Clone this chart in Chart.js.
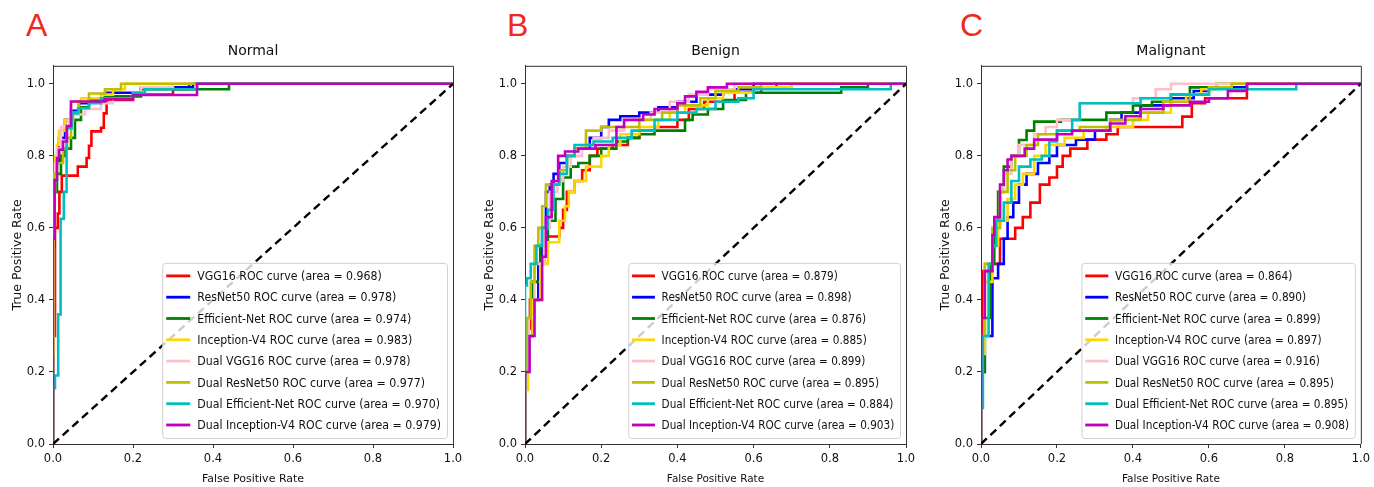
<!doctype html>
<html><head><meta charset="utf-8"><title>ROC curves</title>
<script src="https://cdn.jsdelivr.net/npm/chart.js"></script>
<style>
body{margin:0;background:#fff;width:1374px;height:487px;position:relative;overflow:hidden}
.panel{position:absolute;top:0}
.tag{position:absolute;top:9px;color:#f0281e;font:32px/32px "Liberation Sans",Arial,sans-serif}
</style>
</head><body>
<div class="tag" style="left:26px">A</div>
<div class="tag" style="left:507px">B</div>
<div class="tag" style="left:960px">C</div>
<div class="panel" style="left:0px"><canvas id="chartA" width="470" height="487"></canvas></div>
<div class="panel" style="left:472px"><canvas id="chartB" width="451" height="487"></canvas></div>
<div class="panel" style="left:928px"><canvas id="chartC" width="446" height="487"></canvas></div>
<script>
// model names, colours and AUC values per class
const modelNames = ['VGG16', 'ResNet50', 'Efficient-Net', 'Inception-V4', 'Dual VGG16', 'Dual ResNet50', 'Dual Efficient-Net', 'Dual Inception-V4'];
const modelColors = ['#ff0000', '#0000ff', '#008000', '#ffd700', '#ffc0cb', '#bfbf00', '#00bfbf', '#bf00bf'];
const normalAuc = [0.968, 0.978, 0.974, 0.983, 0.978, 0.977, 0.970, 0.979];
const benignAuc = [0.879, 0.898, 0.876, 0.885, 0.899, 0.895, 0.884, 0.903];
const malignantAuc = [0.864, 0.890, 0.899, 0.897, 0.916, 0.895, 0.895, 0.908];
const tickValues = [0, 0.2, 0.4, 0.6, 0.8, 1.0];

// ROC points [fpr, tpr] (drawn as steps: up first, then right)
const normalVgg16 = [[0,0],[0.005,0.3],[0.012,0.6],[0.016,0.64],[0.022,0.7],[0.062,0.745],[0.084,0.77],[0.09,0.794],[0.096,0.828],[0.12,0.868],[0.127,0.878],[0.134,0.918],[0.2,0.955],[0.3,0.97],[0.34,0.985],[1,1]];
const normalResnet50 = [[0,0],[0.003,0.55],[0.008,0.7],[0.015,0.78],[0.03,0.85],[0.045,0.9],[0.065,0.925],[0.09,0.946],[0.13,0.96],[0.22,0.975],[0.35,0.99],[1,1]];
const normalEffnet = [[0,0],[0.003,0.62],[0.01,0.7],[0.02,0.75],[0.03,0.8],[0.045,0.82],[0.055,0.85],[0.07,0.9],[0.09,0.935],[0.13,0.955],[0.22,0.965],[0.44,0.985],[1,1]];
const normalInception = [[0,0],[0.002,0.25],[0.005,0.74],[0.01,0.8],[0.015,0.83],[0.03,0.87],[0.045,0.9],[0.07,0.95],[0.12,0.96],[0.15,0.97],[0.18,0.985],[1,1]];
const normalDualVgg16 = [[0,0],[0.005,0.7],[0.01,0.78],[0.02,0.82],[0.04,0.88],[0.05,0.9],[0.08,0.915],[0.12,0.93],[0.15,0.946],[0.2,0.96],[0.22,0.975],[0.3,0.99],[1,1]];
const normalDualResnet50 = [[0,0],[0.003,0.7],[0.01,0.75],[0.025,0.78],[0.035,0.82],[0.045,0.85],[0.05,0.9],[0.065,0.92],[0.09,0.95],[0.13,0.973],[0.17,0.985],[1,1]];
const normalDualEffnet = [[0,0],[0.005,0.155],[0.013,0.19],[0.019,0.36],[0.027,0.625],[0.034,0.7],[0.047,0.877],[0.063,0.918],[0.09,0.932],[0.12,0.946],[0.2,0.96],[0.23,0.975],[0.36,0.985],[1,1]];
const normalDualInception = [[0,0],[0.004,0.57],[0.01,0.733],[0.015,0.794],[0.025,0.817],[0.035,0.84],[0.045,0.883],[0.13,0.951],[0.2,0.957],[0.36,0.969],[1,1]];

const benignVgg16 = [[0,0],[0.005,0.25],[0.013,0.32],[0.02,0.4],[0.035,0.45],[0.05,0.5],[0.09,0.576],[0.1,0.6],[0.11,0.65],[0.13,0.7],[0.15,0.73],[0.17,0.76],[0.19,0.8],[0.23,0.82],[0.27,0.83],[0.3,0.85],[0.34,0.87],[0.4,0.88],[0.43,0.9],[0.47,0.93],[0.55,0.95],[0.62,0.975],[0.66,0.99],[1,1]];
const benignResnet50 = [[0,0],[0.01,0.2],[0.02,0.3],[0.035,0.4],[0.045,0.5],[0.055,0.6],[0.065,0.7],[0.075,0.72],[0.09,0.75],[0.11,0.78],[0.13,0.8],[0.17,0.82],[0.2,0.85],[0.22,0.88],[0.25,0.9],[0.3,0.91],[0.35,0.92],[0.4,0.935],[0.45,0.95],[0.52,0.97],[0.6,0.985],[1,1]];
const benignEffnet = [[0,0],[0.01,0.2],[0.02,0.3],[0.04,0.45],[0.06,0.55],[0.08,0.62],[0.1,0.68],[0.12,0.74],[0.14,0.77],[0.17,0.78],[0.2,0.8],[0.24,0.82],[0.27,0.84],[0.3,0.85],[0.34,0.86],[0.42,0.87],[0.44,0.9],[0.48,0.915],[0.52,0.93],[0.58,0.955],[0.83,0.975],[0.9,0.99],[1,1]];
const benignInception = [[0,0],[0.008,0.15],[0.02,0.3],[0.04,0.4],[0.06,0.5],[0.09,0.56],[0.105,0.62],[0.115,0.66],[0.13,0.7],[0.16,0.73],[0.2,0.77],[0.22,0.8],[0.25,0.83],[0.3,0.86],[0.35,0.88],[0.38,0.9],[0.42,0.92],[0.48,0.94],[0.52,0.96],[0.6,0.975],[0.7,0.99],[1,1]];
const benignDualVgg16 = [[0,0],[0.01,0.2],[0.025,0.35],[0.05,0.5],[0.065,0.6],[0.085,0.7],[0.1,0.73],[0.12,0.77],[0.15,0.8],[0.18,0.83],[0.22,0.85],[0.26,0.87],[0.33,0.9],[0.38,0.92],[0.43,0.95],[0.48,0.97],[0.55,0.985],[1,1]];
const benignDualResnet50 = [[0,0],[0.005,0.2],[0.015,0.35],[0.025,0.45],[0.035,0.55],[0.045,0.6],[0.055,0.66],[0.09,0.72],[0.11,0.76],[0.13,0.8],[0.16,0.82],[0.2,0.87],[0.3,0.88],[0.36,0.9],[0.4,0.92],[0.46,0.94],[0.5,0.96],[0.56,0.98],[0.62,0.99],[1,1]];
const benignDualEffnet = [[0,0],[0.005,0.44],[0.015,0.46],[0.03,0.5],[0.045,0.55],[0.06,0.6],[0.075,0.65],[0.09,0.72],[0.11,0.75],[0.13,0.8],[0.18,0.83],[0.23,0.84],[0.28,0.85],[0.34,0.87],[0.4,0.9],[0.45,0.92],[0.5,0.93],[0.56,0.95],[0.6,0.96],[0.96,0.985],[1,1]];
const benignDualInception = [[0,0],[0.012,0.2],[0.025,0.3],[0.045,0.4],[0.055,0.52],[0.07,0.63],[0.087,0.73],[0.105,0.8],[0.14,0.812],[0.185,0.82],[0.24,0.83],[0.26,0.88],[0.31,0.9],[0.34,0.915],[0.4,0.93],[0.42,0.946],[0.45,0.965],[0.48,0.978],[0.53,0.99],[1,1]];

const malignantVgg16 = [[0,0],[0.005,0.3],[0.03,0.48],[0.05,0.5],[0.09,0.57],[0.11,0.6],[0.13,0.63],[0.155,0.67],[0.18,0.72],[0.2,0.74],[0.215,0.77],[0.235,0.8],[0.28,0.82],[0.33,0.845],[0.36,0.86],[0.53,0.88],[0.555,0.909],[0.59,0.946],[0.7,0.96],[1,1]];
const malignantResnet50 = [[0,0],[0.01,0.2],[0.03,0.3],[0.045,0.46],[0.06,0.5],[0.07,0.57],[0.085,0.63],[0.1,0.67],[0.12,0.72],[0.15,0.75],[0.18,0.78],[0.2,0.8],[0.25,0.83],[0.3,0.845],[0.34,0.87],[0.37,0.9],[0.42,0.92],[0.5,0.94],[0.56,0.96],[0.6,0.98],[0.7,0.99],[1,1]];
const malignantEffnet = [[0,0],[0.01,0.2],[0.025,0.35],[0.035,0.5],[0.045,0.6],[0.06,0.7],[0.08,0.77],[0.1,0.8],[0.12,0.844],[0.14,0.87],[0.21,0.895],[0.33,0.9],[0.4,0.92],[0.45,0.94],[0.5,0.95],[0.55,0.97],[0.62,0.99],[1,1]];
const malignantInception = [[0,0],[0.01,0.25],[0.03,0.45],[0.045,0.55],[0.07,0.62],[0.09,0.68],[0.11,0.72],[0.14,0.75],[0.17,0.8],[0.22,0.83],[0.27,0.85],[0.33,0.87],[0.4,0.88],[0.44,0.9],[0.5,0.92],[0.54,0.95],[0.58,0.97],[0.62,0.985],[1,1]];
const malignantDualVgg16 = [[0,0],[0.01,0.3],[0.03,0.5],[0.05,0.6],[0.06,0.7],[0.08,0.75],[0.1,0.8],[0.14,0.83],[0.17,0.86],[0.2,0.88],[0.26,0.9],[0.4,0.946],[0.46,0.96],[0.5,0.985],[1,1]];
const malignantDualResnet50 = [[0,0],[0.01,0.3],[0.03,0.5],[0.05,0.6],[0.07,0.7],[0.09,0.76],[0.12,0.8],[0.15,0.83],[0.2,0.86],[0.26,0.87],[0.34,0.88],[0.42,0.9],[0.48,0.92],[0.55,0.95],[0.6,0.97],[0.66,0.99],[1,1]];
const malignantDualEffnet = [[0,0],[0.005,0.1],[0.02,0.3],[0.03,0.5],[0.04,0.55],[0.06,0.62],[0.08,0.67],[0.1,0.73],[0.13,0.77],[0.16,0.79],[0.18,0.8],[0.2,0.84],[0.24,0.87],[0.26,0.9],[0.42,0.946],[0.5,0.96],[0.6,0.97],[0.83,0.985],[1,1]];
const malignantDualInception = [[0,0],[0.01,0.35],[0.03,0.48],[0.035,0.58],[0.05,0.63],[0.06,0.72],[0.07,0.76],[0.08,0.79],[0.115,0.8],[0.14,0.82],[0.2,0.845],[0.24,0.86],[0.34,0.87],[0.38,0.89],[0.42,0.91],[0.48,0.93],[0.55,0.94],[0.6,0.95],[0.65,0.96],[0.7,0.98],[1,1]];

const FONT = '"DejaVu Sans", sans-serif';
const INK = '#111';

// box around plot area (top + right spines)
const frame = {
  id: 'frame',
  afterDatasetsDraw(chart) {
    const { ctx, chartArea: a } = chart;
    ctx.save();
    ctx.strokeStyle = '#333';
    ctx.lineWidth = 1;
    ctx.beginPath();
    ctx.moveTo(a.left, a.top + 0.5);
    ctx.lineTo(a.right + 0.5, a.top + 0.5);
    ctx.lineTo(a.right + 0.5, a.bottom);
    ctx.stroke();
    ctx.restore();
  }
};

// matplotlib style legend in the lower right corner
const rocLegend = {
  id: 'rocLegend',
  afterDraw(chart, args, opts) {
    const { ctx, chartArea: a } = chart;
    const labels = opts.labels, sx = opts.squeeze, s = opts.scale;
    const rowH = 21.3, padY = 13;
    ctx.save();
    ctx.font = '12.5px ' + FONT;
    let maxW = 0;
    labels.forEach(l => { maxW = Math.max(maxW, ctx.measureText(l).width); });
    const w = 35 * s + maxW * sx + 6 * s;
    const h = padY * 2 + rowH * (labels.length - 1);
    const right = a.right - 6, bottom = a.bottom - 6;
    const left = right - w, top = bottom - h;
    ctx.beginPath();
    ctx.roundRect(left + 0.5, top + 0.5, w, h, 3);
    ctx.fillStyle = 'rgba(255,255,255,0.8)';
    ctx.fill();
    ctx.strokeStyle = '#d0d0d0';
    ctx.lineWidth = 1;
    ctx.stroke();
    labels.forEach((l, i) => {
      const y = top + padY + i * rowH;
      ctx.strokeStyle = opts.colors[i];
      ctx.lineWidth = 2.8;
      ctx.beginPath();
      ctx.moveTo(left + 4 * s, y);
      ctx.lineTo(left + 28 * s, y);
      ctx.stroke();
      ctx.save();
      ctx.translate(left + 35 * s, y);
      ctx.scale(sx, 1);
      ctx.fillStyle = INK;
      ctx.textBaseline = 'middle';
      ctx.fillText(l, 0, 1);
      ctx.restore();
    });
    ctx.restore();
  }
};

function makeChart(id, title, curves, aucs, padRight, scale, squeeze) {
  const labels = modelNames.map((n, i) => `${n} ROC curve (area = ${aucs[i].toFixed(3)})`);
  const datasets = curves.map((c, i) => ({
    label: labels[i],
    data: c.map(p => ({ x: p[0], y: p[1] })),
    borderColor: modelColors[i],
    borderWidth: 2.6,
    stepped: 'after',   // chart.js 'after' = vertical first, then horizontal
    pointRadius: 0,
    order: 8 - i
  }));
  datasets.push({
    label: 'chance',
    data: [{ x: 0, y: 0 }, { x: 1, y: 1 }],
    borderColor: '#000',
    borderWidth: 2.4,
    borderDash: [8, 5],
    pointRadius: 0,
    order: 0
  });
  const axisCommon = {
    type: 'linear',
    afterBuildTicks: ax => { ax.ticks = tickValues.map(v => ({ value: v })); },
    grid: { drawOnChartArea: false, drawTicks: true, tickLength: 4, color: '#333' },
    border: { color: '#333', width: 1 },
  };
  return new Chart(document.getElementById(id), {
    type: 'line',
    data: { datasets },
    options: {
      responsive: false,
      animation: false,
      layout: { padding: { left: 0, right: padRight, top: 0, bottom: 0 } },
      scales: {
        x: Object.assign({}, axisCommon, {
          min: 0, max: 1,
          ticks: { callback: v => v.toFixed(1), color: INK, font: { family: FONT, size: 11.5 }, padding: 4, maxRotation: 0 },
          title: { display: true, text: 'False Positive Rate', color: INK, font: { family: FONT, size: 11 * scale }, padding: { top: 0, bottom: 1 } },
          afterFit: ax => { ax.height = 43; }
        }),
        y: Object.assign({}, axisCommon, {
          min: 0, max: 1.05,
          ticks: { callback: v => v.toFixed(1), color: INK, font: { family: FONT, size: 11.5 }, padding: 4 },
          title: { display: true, text: 'True Positive Rate', color: INK, font: { family: FONT, size: 12.5 }, padding: { top: 10, bottom: 0 } },
          afterFit: ax => { ax.width = 53; }
        })
      },
      plugins: {
        legend: { display: false },
        tooltip: { enabled: false },
        title: { display: true, text: title, fullSize: false, color: INK, font: { family: FONT, size: 14, weight: 'normal' }, padding: { top: 43, bottom: 6 } },
        rocLegend: { labels, colors: modelColors, scale, squeeze }
      }
    },
    plugins: [frame, rocLegend]
  });
}

makeChart('chartA', 'Normal',
  [normalVgg16, normalResnet50, normalEffnet, normalInception, normalDualVgg16, normalDualResnet50, normalDualEffnet, normalDualInception],
  normalAuc, 17, 1, 0.88);
makeChart('chartB', 'Benign',
  [benignVgg16, benignResnet50, benignEffnet, benignInception, benignDualVgg16, benignDualResnet50, benignDualEffnet, benignDualInception],
  benignAuc, 17, 0.953, 0.84);
makeChart('chartC', 'Malignant',
  [malignantVgg16, malignantResnet50, malignantEffnet, malignantInception, malignantDualVgg16, malignantDualResnet50, malignantDualEffnet, malignantDualInception],
  malignantAuc, 9, 0.96, 0.845);
</script>
</body></html>
